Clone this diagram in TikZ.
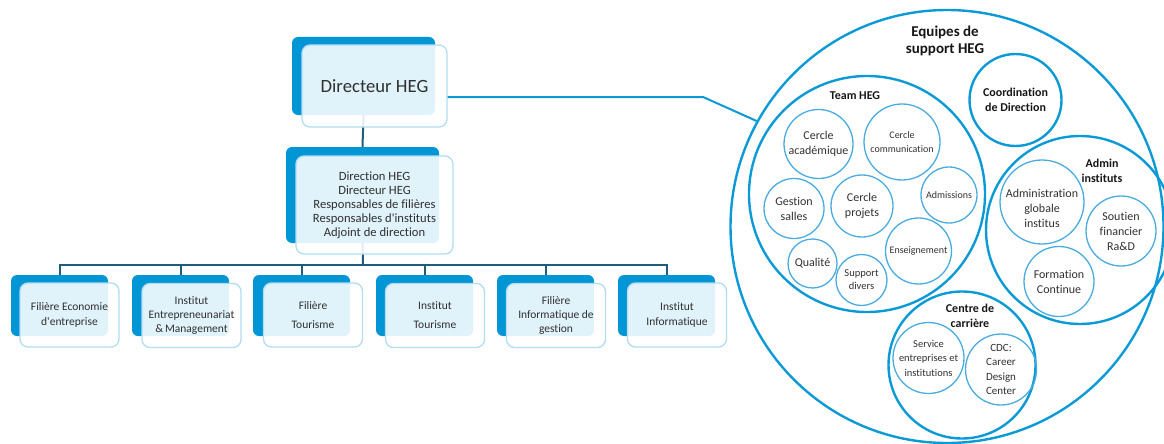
\documentclass[tikz,border=0pt]{standalone}
\usepackage{fontspec}
\setmainfont{Carlito}[Ligatures={TeX,NoCommon}]
\usetikzlibrary{backgrounds}

\definecolor{hegblue}{RGB}{0,150,214}
\definecolor{edgeblue}{RGB}{178,220,242}
\definecolor{treeline}{RGB}{32,92,126}
\definecolor{ringblue}{RGB}{12,154,215}
\definecolor{innerblue}{RGB}{72,172,224}
\definecolor{txt}{RGB}{48,48,48}
\definecolor{boldtxt}{RGB}{22,22,22}

\newcommand{\fs}[2]{\fontsize{#1}{#2}\selectfont}

\begin{document}
\begin{tikzpicture}[x=1pt,y=-1pt,
  backbox/.style={fill=hegblue, rounded corners=6pt, inner sep=0pt,
    minimum width=97pt, minimum height=61pt},
  frontbox/.style={draw=edgeblue, line width=1.3pt, fill=white, fill opacity=0.88,
    text opacity=1, rounded corners=8pt, inner sep=0pt, align=center,
    minimum width=99pt, minimum height=64pt, text=txt, font=\fs{11.5}{14}},
  tree/.style={draw=treeline, line width=2pt},
  ring/.style={circle, draw=ringblue, line width=2.4pt, inner sep=0pt},
  inner/.style={circle, draw=innerblue, line width=1.3pt, inner sep=0pt,
    align=center, text=txt, font=\fs{12}{15}},
  small/.style={font=\fs{10}{14}},
  head/.style={align=center, text=boldtxt, font=\bfseries\fs{12}{15.5}},
]
\useasboundingbox (0,0) rectangle (1164,444);
\clip (0,0) rectangle (1164,444);

% ---------- organisation chart ----------
\node[backbox, minimum width=143pt, minimum height=78pt] (dirback) at (363.5,76) {};
\node[frontbox, minimum width=145pt, minimum height=82pt, font=\fs{18.7}{20}] (dir) at (374.5,86) {Directeur HEG};

\node[backbox, minimum width=153pt, minimum height=96pt] (dnback) at (362.5,195) {};
\node[frontbox, minimum width=157pt, minimum height=98pt, font=\fs{12.6}{14}] (dn) at (374.5,205)
  {Direction HEG\\Directeur HEG\\Responsables de filières\\Responsables d\textquotesingle instituts\\Adjoint de direction};

\node[backbox] (b1) at (59.5,305.5) {};
\node[frontbox] (f1) at (69.5,315) {Filière Economie\\[1pt]d\textquotesingle entreprise};
\node[backbox] (b2) at (180.5,305.5) {};
\node[frontbox] (f2) at (191.5,315.5) {Institut\\Entrepreneunariat\\\&\,Management};
\node[backbox] (b3) at (301.5,305.5) {};
\node[frontbox] (f3) at (313,315) {Filière\\[5pt]Tourisme};
\node[backbox] (b4) at (424.5,305.5) {};
\node[frontbox] (f4) at (435,315.5) {Institut\\[5pt]Tourisme};
\node[backbox] (b5) at (545.5,305.5) {};
\node[frontbox] (f5) at (556,315.5) {Filière\\Informatique de\\gestion};
\node[backbox] (b6) at (666.5,305.5) {};
\node[frontbox] (f6) at (677,315) {Institut\\[1pt]Informatique};

\coordinate (bus) at (363,264.5);
\coordinate (turn) at (703,97);

\begin{scope}[on background layer]
  \draw[tree] (dirback.south) -- (dnback.north);
  \draw[tree] (dnback.south) -- (bus);
  \foreach \b in {b1,b2,b3,b4,b5,b6}
    \draw[tree] (bus) -| (\b.north);
\end{scope}

% ---------- support teams ----------
\node[ring, minimum size=433pt] (big) at (947,226.5) {};
\node[align=center, text=boldtxt, font=\bfseries\fs{15}{17}] (eqlbl) at (945,40.5) {Equipes de\\support HEG};

\draw[draw=ringblue, line width=2pt] (dir.east |- turn) -- (turn) -- (big.151);

\node[ring, minimum size=92pt, head] (coord) at (1015.5,100) {Coordination\\de Direction};

% Team HEG
\node[ring, minimum size=236pt] (team) at (867,194) {};
\node[head] (teamlbl) at (855,96) {Team HEG};
\node[inner, minimum size=69pt] (acad) at (818.5,144) {Cercle\\académique};
\node[inner, small, minimum size=76pt] (comm) at (902,142) {Cercle\\communication};
\node[inner, small, minimum size=56pt] (adm) at (949,195) {Admissions};
\node[inner, minimum size=60pt] (gest) at (794,208.5) {Gestion\\salles};
\node[inner, minimum size=62pt] (proj) at (862,206) {Cercle\\projets};
\node[inner, small, minimum size=66pt] (ens) at (918.5,251) {Enseignement};
\node[inner, minimum size=49pt] (qual) at (812.5,263.5) {Qualité};
\node[inner, font=\fs{10.5}{13}, minimum size=51pt] (supp) at (861.5,280) {Support\\divers};

% Admin instituts
\node[ring, minimum size=188pt] (admin) at (1080,230) {};
\node[head] (adminlbl) at (1102,171) {Admin\\instituts};
\node[inner, minimum size=84pt] (glob) at (1042,202) {};
\node[align=center, text=txt, font=\fs{12}{15}] (globtxt) at (1042,208) {Administration\\globale\\institus};
\node[inner, minimum size=70pt] (sout) at (1121,231) {Soutien\\financier\\Ra\&D};
\node[inner, minimum size=70pt] (form) at (1059,281.5) {Formation\\Continue};

% Centre de carrière
\node[ring, minimum size=147pt] (cdcring) at (962,365) {};
\node[head] (cdclbl) at (970,316) {Centre de\\carrière};
\node[inner, font=\fs{10.5}{14.5}, minimum size=71pt] (serv) at (928.5,358) {Service\\entreprises et\\institutions};
\node[inner, font=\fs{11}{14.3}, minimum size=71pt] (cdc) at (1001,369.5) {CDC:\\Career\\Design\\Center};
\end{tikzpicture}
\end{document}
